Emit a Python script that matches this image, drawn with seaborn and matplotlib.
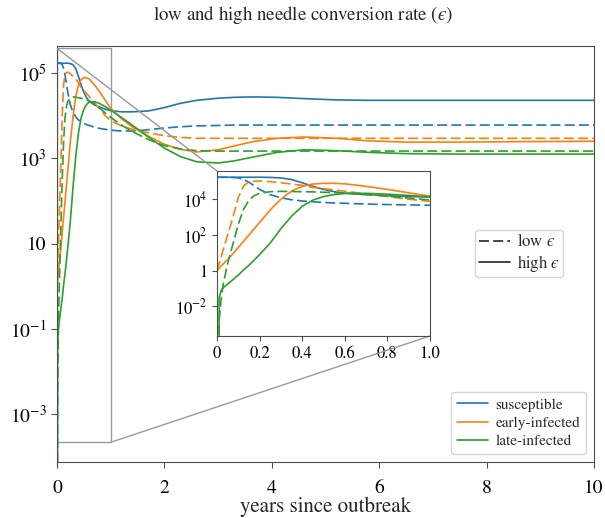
import numpy as np
import pandas as pd
import matplotlib
matplotlib.use("Agg")
import matplotlib.pyplot as plt
from matplotlib.lines import Line2D
from matplotlib.ticker import NullLocator
from mpl_toolkits.axes_grid1.inset_locator import mark_inset
import seaborn as sns

# ---------------------------------------------------------------------------
# Simulated compartment sizes (log10 of number of trees) over time
# ---------------------------------------------------------------------------
years = [0, 0.01, 0.02, 0.03, 0.05, 0.075, 0.1, 0.125, 0.15, 0.175,
         0.2, 0.25, 0.3, 0.35, 0.4, 0.45, 0.5, 0.55, 0.6, 0.7,
         0.8, 0.9, 1.0, 1.2, 1.4, 1.7, 2.0, 2.3, 2.6, 3.0,
         3.3, 3.65, 4.1, 4.6, 5.2, 5.8, 6.5, 7.5, 8.5, 10.0]

log10_susceptible_low = [5.23, 5.23, 5.23, 5.23, 5.23, 5.22, 5.19, 5.10, 4.95, 4.75,
                         4.55, 4.25, 4.08, 3.97, 3.90, 3.86, 3.82, 3.79, 3.77, 3.73,
                         3.70, 3.68, 3.66, 3.64, 3.64, 3.67, 3.71, 3.74, 3.76, 3.77,
                         3.78, 3.78, 3.78, 3.78, 3.78, 3.78, 3.78, 3.78, 3.78, 3.78]
log10_susceptible_high = [5.23, 5.23, 5.23, 5.23, 5.23, 5.23, 5.23, 5.23, 5.23, 5.23,
                          5.23, 5.22, 5.19, 5.10, 4.92, 4.72, 4.55, 4.42, 4.34, 4.25,
                          4.20, 4.15, 4.12, 4.09, 4.09, 4.11, 4.19, 4.29, 4.36, 4.41,
                          4.43, 4.44, 4.43, 4.40, 4.37, 4.36, 4.36, 4.36, 4.36, 4.36]
log10_early_low = [0.0, 0.4, 0.8, 1.2, 2.0, 3.0, 4.1, 4.75, 4.97, 5.01,
                   5.02, 4.98, 4.92, 4.85, 4.78, 4.66, 4.59, 4.52, 4.45, 4.30,
                   4.15, 4.00, 3.88, 3.76, 3.68, 3.60, 3.53, 3.49, 3.47, 3.47,
                   3.47, 3.47, 3.47, 3.47, 3.47, 3.47, 3.47, 3.47, 3.47, 3.47]
log10_early_high = [0.0, 0.13, 0.26, 0.39, 0.62, 0.95, 1.30, 1.65, 2.00, 2.35,
                    2.70, 3.40, 4.00, 4.45, 4.72, 4.85, 4.89, 4.89, 4.86, 4.72,
                    4.55, 4.36, 4.17, 3.93, 3.74, 3.52, 3.33, 3.21, 3.15, 3.20,
                    3.29, 3.39, 3.47, 3.50, 3.47, 3.41, 3.38, 3.38, 3.39, 3.40]
log10_late_low = [-np.inf, -2.8, -1.5, -0.7, 0.4, 1.5, 2.6, 3.45, 3.95, 4.20,
                  4.33, 4.42, 4.44, 4.43, 4.42, 4.41, 4.39, 4.37, 4.35, 4.27,
                  4.17, 4.06, 3.96, 3.78, 3.63, 3.44, 3.30, 3.22, 3.18, 3.17,
                  3.17, 3.17, 3.17, 3.17, 3.17, 3.17, 3.17, 3.17, 3.17, 3.17]
log10_late_high = [-np.inf, -1.5, -1.1, -0.95, -0.75, -0.5, -0.25, 0.05, 0.3, 0.6,
                   0.9, 1.55, 2.35, 3.05, 3.60, 3.95, 4.15, 4.26, 4.32, 4.33,
                   4.28, 4.21, 4.13, 3.96, 3.78, 3.50, 3.24, 3.04, 2.92, 2.89,
                   2.94, 3.03, 3.14, 3.20, 3.18, 3.14, 3.11, 3.10, 3.10, 3.10]

compartments = ["susceptible", "early-infected", "late-infected"]
rates = ["low", "high"]
rate_labels = ["low $\u03f5$", "high $\u03f5$"]
colors = ["#1f77b4", "#ff7f0e", "#2ca02c"]

main_xticks = [0, 2, 4, 6, 8, 10]
main_yticks = [1e-3, 1e-1, 1e1, 1e3, 1e5]
main_ytick_labels = ["$10^{-3}$", "$10^{-1}$", "10", "$10^{3}$", "$10^{5}$"]
inset_xticks = [0, 0.2, 0.4, 0.6, 0.8, 1.0]
inset_xtick_labels = ["0", "0.2", "0.4", "0.6", "0.8", "1.0"]
inset_yticks = [1e-2, 1, 1e2, 1e4]
inset_ytick_labels = ["$10^{-2}$", "1", "$10^{2}$", "$10^{4}$"]

series = {
    ("susceptible", "low"): log10_susceptible_low,
    ("susceptible", "high"): log10_susceptible_high,
    ("early-infected", "low"): log10_early_low,
    ("early-infected", "high"): log10_early_high,
    ("late-infected", "low"): log10_late_low,
    ("late-infected", "high"): log10_late_high,
}

rows = []
for (comp, rate), values in series.items():
    for t, e in zip(years, values):
        rows.append({"years": t, "trees": 10.0 ** e,
                     "compartment": comp, "rate": rate})
df = pd.DataFrame(rows)

# ---------------------------------------------------------------------------
# Styling
# ---------------------------------------------------------------------------
sns.set_style("ticks")
plt.rcParams["font.family"] = ["STIXGeneral", "DejaVu Serif"]
plt.rcParams["mathtext.fontset"] = "stix"
plt.rcParams["axes.edgecolor"] = "0.3"
plt.rcParams["xtick.color"] = "0.3"
plt.rcParams["ytick.color"] = "0.3"
plt.rcParams["xtick.labelcolor"] = "black"
plt.rcParams["ytick.labelcolor"] = "black"

palette = dict(zip(compartments, colors))
dash_map = {"low": (6, 2.5), "high": ""}

fig = plt.figure(figsize=(6.05, 5.18), dpi=100)
ax = fig.add_axes([0.0942, 0.1081, 0.8876, 0.8031])
axins = fig.add_axes([0.3587, 0.3514, 0.352, 0.3185])


def draw(target):
    sns.lineplot(data=df, x="years", y="trees", hue="compartment",
                 style="rate", hue_order=compartments, style_order=rates,
                 palette=palette, dashes=dash_map, estimator=None,
                 sort=False, legend=False, linewidth=1.2, ax=target)
    target.set_yscale("log")
    target.yaxis.set_minor_locator(NullLocator())
    target.set_xlabel("")
    target.set_ylabel("")


draw(ax)
ax.set_xlim(0, 10)
ax.set_ylim(7.6e-5, 4.3e5)
ax.set_xticks(main_xticks)
ax.set_xticklabels([str(v) for v in main_xticks])
ax.set_yticks(main_yticks)
ax.set_yticklabels(main_ytick_labels)
ax.tick_params(labelsize=14, length=4, width=0.8)
ax.tick_params(axis="x", pad=9)
ax.set_xlabel("years since outbreak", fontsize=15, labelpad=0)
fig.suptitle("low and high needle conversion rate ($\u03f5$)",
             fontsize=13.6, x=0.5, y=0.971, va="center")

draw(axins)
axins.set_xlim(0, 1)
axins.set_ylim(2.2e-4, 3.8e5)
axins.set_xticks(inset_xticks)
axins.set_xticklabels(inset_xtick_labels)
axins.set_yticks(inset_yticks)
axins.set_yticklabels(inset_ytick_labels)
axins.tick_params(labelsize=12, length=3.5, width=0.8)
axins.set_facecolor("white")

mark_inset(ax, axins, loc1=2, loc2=4, fc="none", ec="0.6", lw=1.0)

# Legends: line style for the conversion rate, colour for the compartment
style_handles = [Line2D([], [], color="0.15", lw=1.2, dashes=(6, 2.5)),
                 Line2D([], [], color="0.15", lw=1.2)]
leg_style = ax.legend(style_handles, rate_labels, loc="center right",
                      bbox_to_anchor=(0.958, 0.501), fontsize=12,
                      handlelength=1.9, handletextpad=0.4,
                      borderpad=0.2, labelspacing=0.15)
ax.add_artist(leg_style)

color_handles = [Line2D([], [], color=c, lw=1.2) for c in colors]
ax.legend(color_handles, compartments, loc="lower right", fontsize=11,
          handlelength=2.0, handletextpad=0.5, borderpad=0.4,
          labelspacing=0.3)

fig.savefig("out.png", dpi=100)
